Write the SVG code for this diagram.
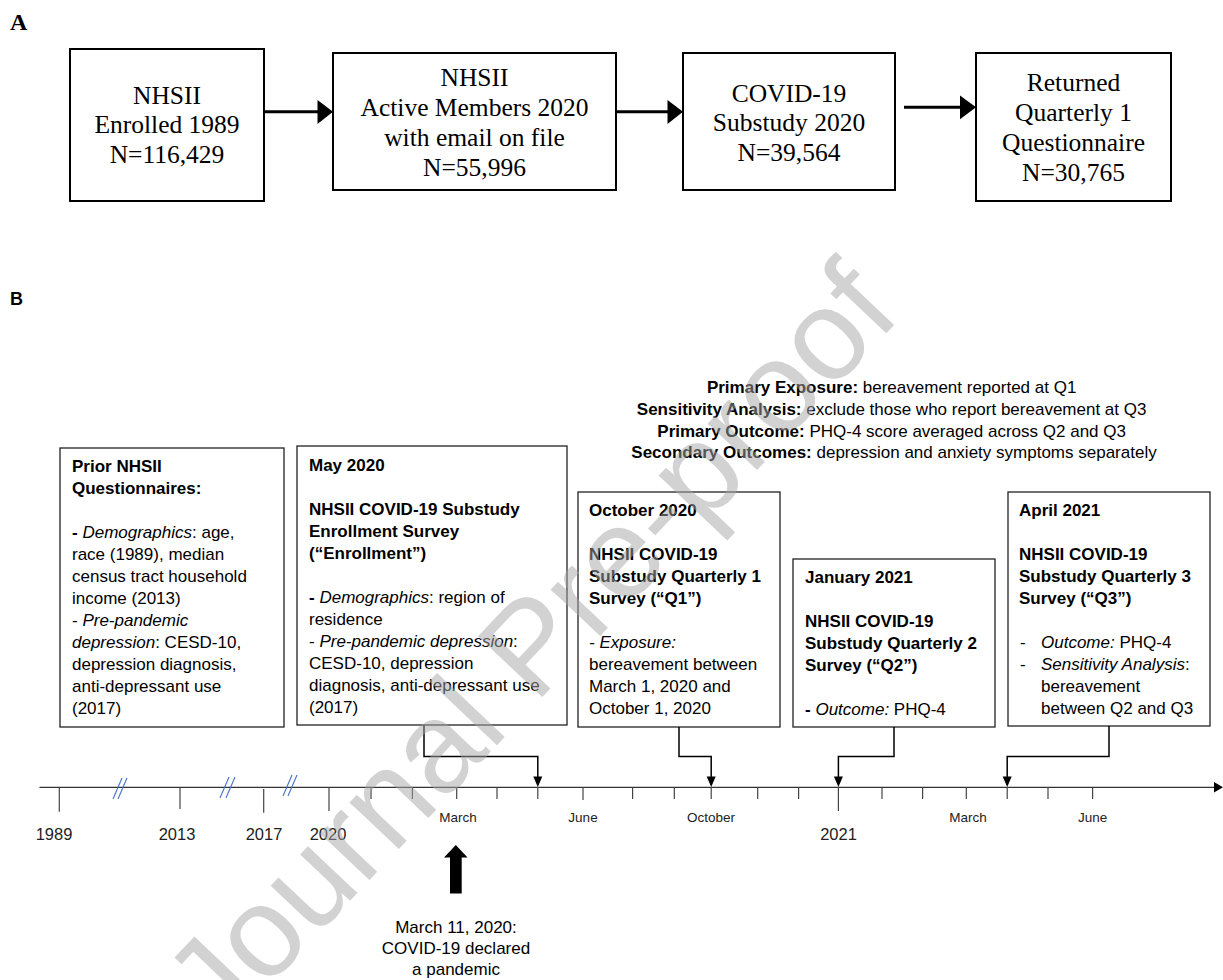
<svg xmlns="http://www.w3.org/2000/svg" width="1223" height="980" viewBox="0 0 1223 980">
<style>
.serif{font-family:"Liberation Serif","Times New Roman",serif;font-size:25.5px;fill:#000}
.sans{font-family:"Liberation Sans",Arial,sans-serif;font-size:17px;fill:#000}
.boxA{fill:#fff;stroke:#000;stroke-width:2}
.boxB{fill:#fff;stroke:#222;stroke-width:1.3}
.b{font-weight:bold}
.i{font-style:italic}
.arrA{stroke:#000;stroke-width:3;fill:none}
.conn{stroke:#000;stroke-width:1.5;fill:none}
.tick{stroke:#444;stroke-width:1.2}
.brk{stroke:#4472C4;stroke-width:1.1}
.yr{font-family:"Liberation Sans",Arial,sans-serif;font-size:16.5px;fill:#222;text-anchor:middle}
.mo{font-family:"Liberation Sans",Arial,sans-serif;font-size:13.5px;fill:#222;text-anchor:middle}
</style>

<text x="10" y="30" class="serif b" style="font-size:24px">A</text>

<g id="a1">
<rect x="70" y="49" width="194" height="152" class="boxA"/>
<text class="serif" text-anchor="middle"><tspan x="167" y="103.5">NHSII</tspan><tspan x="167" y="133">Enrolled 1989</tspan><tspan x="167" y="162.5">N=116,429</tspan></text>
</g>
<g id="a2">
<rect x="333" y="53" width="283" height="137" class="boxA"/>
<text class="serif" text-anchor="middle"><tspan x="474.5" y="85.5">NHSII</tspan><tspan x="474.5" y="115.5">Active Members 2020</tspan><tspan x="474.5" y="145.5">with email on file</tspan><tspan x="474.5" y="175.5">N=55,996</tspan></text>
</g>
<g id="a3">
<rect x="683" y="53" width="212" height="137" class="boxA"/>
<text class="serif" text-anchor="middle"><tspan x="789" y="101.5">COVID-19</tspan><tspan x="789" y="131">Substudy 2020</tspan><tspan x="789" y="160.5">N=39,564</tspan></text>
</g>
<g id="a4">
<rect x="976" y="53" width="195" height="148" class="boxA"/>
<text class="serif" text-anchor="middle"><tspan x="1073.5" y="91">Returned</tspan><tspan x="1073.5" y="121">Quarterly 1</tspan><tspan x="1073.5" y="151">Questionnaire</tspan><tspan x="1073.5" y="181">N=30,765</tspan></text>
</g>

<g id="connectorsA">
<line x1="264" y1="111.7" x2="319" y2="111.7" class="arrA"/>
<polygon points="317.5,100 333,111.7 317.5,124" fill="#000"/>
<line x1="616" y1="111.7" x2="669" y2="111.7" class="arrA"/>
<polygon points="667.5,100 683,111.7 667.5,124" fill="#000"/>
<line x1="904" y1="107.3" x2="962" y2="107.3" class="arrA"/>
<polygon points="960,95.5 976,107.3 960,119.3" fill="#000"/>
</g>

<text x="10" y="305" class="sans b" style="font-size:18px">B</text>

<g id="notes">
<text class="sans" text-anchor="middle">
<tspan x="894" y="393"><tspan class="b">Primary Exposure:</tspan> bereavement reported at Q1</tspan>
<tspan x="894" y="415"><tspan class="b">Sensitivity Analysis:</tspan> exclude those who report bereavement at Q3</tspan>
<tspan x="894" y="437"><tspan class="b">Primary Outcome:</tspan> PHQ-4 score averaged across Q2 and Q3</tspan>
<tspan x="894" y="458"><tspan class="b">Secondary Outcomes:</tspan> depression and anxiety symptoms separately</tspan>
</text>
</g>

<g id="prior">
<rect x="60" y="448" width="224" height="279" class="boxB"/>
<text class="sans">
<tspan x="72" y="472" class="b">Prior NHSII</tspan>
<tspan x="72" y="494" class="b">Questionnaires:</tspan>
<tspan x="72" y="538"><tspan class="b">-</tspan> <tspan class="i">Demographics</tspan>: age,</tspan>
<tspan x="72" y="560">race (1989), median</tspan>
<tspan x="72" y="582">census tract household</tspan>
<tspan x="72" y="604">income (2013)</tspan>
<tspan x="72" y="626">- <tspan class="i">Pre-pandemic</tspan></tspan>
<tspan x="72" y="648"><tspan class="i">depression</tspan>: CESD-10,</tspan>
<tspan x="72" y="670">depression diagnosis,</tspan>
<tspan x="72" y="692">anti-depressant use</tspan>
<tspan x="72" y="714">(2017)</tspan>
</text>
</g>

<g id="may">
<rect x="297" y="446" width="270" height="279" class="boxB"/>
<text class="sans">
<tspan x="309" y="471" class="b">May 2020</tspan>
<tspan x="309" y="515" class="b">NHSII COVID-19 Substudy</tspan>
<tspan x="309" y="537" class="b">Enrollment Survey</tspan>
<tspan x="309" y="559" class="b">(“Enrollment”)</tspan>
<tspan x="309" y="603"><tspan class="b">-</tspan> <tspan class="i">Demographics</tspan>: region of</tspan>
<tspan x="309" y="625">residence</tspan>
<tspan x="309" y="647">- <tspan class="i">Pre-pandemic depression</tspan>:</tspan>
<tspan x="309" y="669">CESD-10, depression</tspan>
<tspan x="309" y="691">diagnosis, anti-depressant use</tspan>
<tspan x="309" y="713">(2017)</tspan>
</text>
</g>

<g id="oct">
<rect x="578" y="492" width="202" height="235" class="boxB"/>
<text class="sans">
<tspan x="589" y="516" class="b">October 2020</tspan>
<tspan x="589" y="560" class="b">NHSII COVID-19</tspan>
<tspan x="589" y="582" class="b">Substudy Quarterly 1</tspan>
<tspan x="589" y="604" class="b">Survey (“Q1”)</tspan>
<tspan x="589" y="648" class="i">- Exposure:</tspan>
<tspan x="589" y="670">bereavement between</tspan>
<tspan x="589" y="692">March 1, 2020 and</tspan>
<tspan x="589" y="714">October 1, 2020</tspan>
</text>
</g>

<g id="jan">
<rect x="793" y="559" width="202" height="168" class="boxB"/>
<text class="sans">
<tspan x="805" y="583" class="b">January 2021</tspan>
<tspan x="805" y="627" class="b">NHSII COVID-19</tspan>
<tspan x="805" y="649" class="b">Substudy Quarterly 2</tspan>
<tspan x="805" y="671" class="b">Survey (“Q2”)</tspan>
<tspan x="805" y="715"><tspan class="b">-</tspan> <tspan class="i">Outcome:</tspan> PHQ-4</tspan>
</text>
</g>

<g id="apr">
<rect x="1008" y="492" width="202" height="234" class="boxB"/>
<text class="sans">
<tspan x="1019" y="516" class="b">April 2021</tspan>
<tspan x="1019" y="560" class="b">NHSII COVID-19</tspan>
<tspan x="1019" y="582" class="b">Substudy Quarterly 3</tspan>
<tspan x="1019" y="604" class="b">Survey (“Q3”)</tspan>
<tspan x="1020" y="648">-</tspan><tspan x="1041" y="648"><tspan class="i">Outcome:</tspan> PHQ-4</tspan>
<tspan x="1020" y="670">-</tspan><tspan x="1041" y="670"><tspan class="i">Sensitivity Analysis</tspan>:</tspan>
<tspan x="1041" y="692">bereavement</tspan>
<tspan x="1041" y="714">between Q2 and Q3</tspan>
</text>
</g>

<g id="axis">
<line x1="39.5" y1="787.3" x2="1216" y2="787.3" stroke="#333" stroke-width="1.3"/>
<polygon points="1214,782 1223,787.3 1214,792.6" fill="#000"/>
<g class="tick">
<line x1="59.3" y1="787" x2="59.3" y2="811.7"/>
<line x1="180" y1="787" x2="180" y2="809"/>
<line x1="263.7" y1="789" x2="263.7" y2="812.7"/>
<line x1="329" y1="787" x2="329" y2="811"/>
<line x1="371" y1="787" x2="371" y2="799"/>
<line x1="412.4" y1="787" x2="412.4" y2="799"/>
<line x1="456.7" y1="787" x2="456.7" y2="799"/>
<line x1="497" y1="787" x2="497" y2="799"/>
<line x1="537.8" y1="787" x2="537.8" y2="799"/>
<line x1="583" y1="787" x2="583" y2="800"/>
<line x1="632.6" y1="787" x2="632.6" y2="799"/>
<line x1="674.3" y1="787" x2="674.3" y2="799"/>
<line x1="711.2" y1="787" x2="711.2" y2="799"/>
<line x1="757.7" y1="787" x2="757.7" y2="799"/>
<line x1="798.6" y1="787" x2="798.6" y2="799"/>
<line x1="838.4" y1="787" x2="838.4" y2="811"/>
<line x1="882" y1="787" x2="882" y2="799"/>
<line x1="922.6" y1="787" x2="922.6" y2="799"/>
<line x1="966.3" y1="787" x2="966.3" y2="799"/>
<line x1="1007.2" y1="787" x2="1007.2" y2="799"/>
<line x1="1048" y1="787" x2="1048" y2="799"/>
<line x1="1092.6" y1="787" x2="1092.6" y2="799"/>
</g>
<g class="brk">
<line x1="113" y1="799" x2="122" y2="778"/><line x1="118" y1="799" x2="127" y2="778"/>
<line x1="220" y1="798" x2="229" y2="777"/><line x1="226" y1="798" x2="235" y2="777"/>
<line x1="283" y1="796" x2="292" y2="775"/><line x1="288" y1="796" x2="297" y2="775"/>
</g>
<text class="yr" x="54" y="840">1989</text>
<text class="yr" x="177" y="840">2013</text>
<text class="yr" x="264" y="840">2017</text>
<text class="yr" x="328" y="840">2020</text>
<text class="yr" x="838.5" y="840">2021</text>
<text class="mo" x="458" y="822">March</text>
<text class="mo" x="583" y="822">June</text>
<text class="mo" x="711" y="822">October</text>
<text class="mo" x="968" y="822">March</text>
<text class="mo" x="1092.6" y="822">June</text>
</g>

<g id="connectors">
<polyline points="424,725 424,756.5 537.8,756.5 537.8,777" class="conn"/>
<polygon points="533.3,776.5 542.3,776.5 537.8,787" fill="#000"/>
<polyline points="679,727 679,756.5 711.2,756.5 711.2,777" class="conn"/>
<polygon points="706.7,776.5 715.7,776.5 711.2,787" fill="#000"/>
<polyline points="894,727 894,756.5 838.4,756.5 838.4,777" class="conn"/>
<polygon points="833.9,776.5 842.9,776.5 838.4,787" fill="#000"/>
<polyline points="1109,726 1109,756.5 1007.2,756.5 1007.2,777" class="conn"/>
<polygon points="1002.7,776.5 1011.7,776.5 1007.2,787" fill="#000"/>
</g>

<g id="pandemic">
<polygon points="455.8,845 467.5,857.5 461.7,857.5 461.7,893.5 450,893.5 450,857.5 444,857.5" fill="#000"/>
<text class="sans" text-anchor="middle"><tspan x="456" y="933">March 11, 2020:</tspan><tspan x="456" y="954">COVID-19 declared</tspan><tspan x="456" y="975">a pandemic</tspan></text>
</g>

<text transform="translate(221,1037) rotate(-46.6)" x="0" y="0" font-family="Liberation Sans, Arial, sans-serif" font-size="128.5" fill="#a6a6a6" fill-opacity="0.5">Journal Pre-proof</text>
</svg>
